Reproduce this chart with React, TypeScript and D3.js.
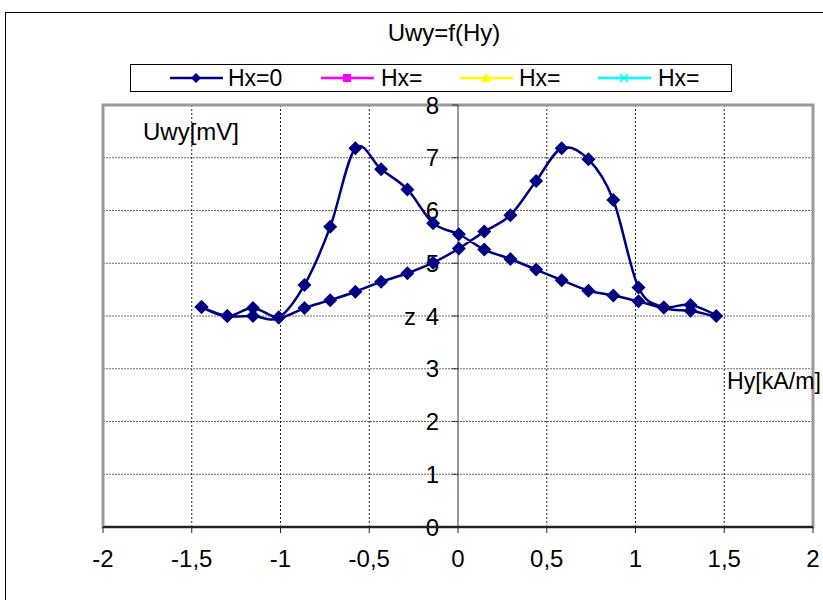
import React from "react";
import * as d3 from "d3";

// Hx=0 series, forward sweep (Hy from -1.45 to 1.45)
const hyUp = [-1.445, -1.3, -1.155, -1.01, -0.865, -0.72, -0.578, -0.433, -0.285, -0.14, 0.005, 0.148, 0.295, 0.44, 0.584, 0.735, 0.875, 1.017, 1.16, 1.31, 1.455];
const uUp = [4.17, 4.0, 4.0, 3.97, 4.59, 5.69, 7.18, 6.78, 6.4, 5.76, 5.55, 5.26, 5.08, 4.88, 4.68, 4.48, 4.39, 4.28, 4.16, 4.21, 4.0];
// Hx=0 series, return sweep (Hy from 1.31 back to -1.45)
const hyDown = [1.31, 1.16, 1.017, 0.875, 0.735, 0.584, 0.44, 0.295, 0.148, 0.005, -0.14, -0.285, -0.433, -0.578, -0.72, -0.865, -1.01, -1.155, -1.3, -1.445];
const uDown = [4.1, 4.16, 4.54, 6.2, 6.97, 7.18, 6.56, 5.91, 5.6, 5.28, 5.01, 4.81, 4.65, 4.46, 4.3, 4.15, 3.97, 4.15, 4.0, 4.17];

const xTicks = [-2, -1.5, -1, -0.5, 0, 0.5, 1, 1.5, 2];
const yTicks = [0, 1, 2, 3, 4, 5, 6, 7, 8];
const legendLabels = ["Hx=0", "Hx=", "Hx=", "Hx="];
const legendColors = ["#000080", "#FF00FF", "#FFFF00", "#00FFFF"];
const title = "Uwy=f(Hy)";

const FONT = "'Liberation Sans', Arial, sans-serif";

export default function App() {
  const W = 823, H = 600;
  const pl = 103, pr = 813, pt = 105, pb = 527;
  const x = d3.scaleLinear().domain([-2, 2]).range([pl, pr]);
  const y = d3.scaleLinear().domain([0, 8]).range([pb, pt]);
  const x0 = x(0);

  const pts: [number, number][] = [
    ...hyUp.map((h, i) => [h, uUp[i]] as [number, number]),
    ...hyDown.map((h, i) => [h, uDown[i]] as [number, number]),
  ];
  const line = d3
    .line<[number, number]>()
    .x((d) => x(d[0]))
    .y((d) => y(d[1]))
    .curve(d3.curveCardinal.tension(0));
  const diamond = (cx: number, cy: number, r: number) =>
    `M${cx},${cy - r}L${cx + r},${cy}L${cx},${cy + r}L${cx - r},${cy}Z`;

  const fmt = (v: number) => String(v).replace(".", ",");

  const legendItems = [
    { lx: 170, tx: 228 },
    { lx: 321, tx: 381 },
    { lx: 460, tx: 519 },
    { lx: 598, tx: 658 },
  ];
  const ly = 78;
  const FS = 24;

  return (
    <svg
      width={W}
      height={H}
      style={{ position: "absolute", left: 0, top: 0, background: "#fff" }}
      fontFamily={FONT}
    >
      <rect x={0} y={0} width={W} height={H} fill="#fff" />
      {/* chart area border */}
      <rect x={5.5} y={12.5} width={840} height={620} fill="none" stroke="#000" strokeWidth={1} />
      {/* title */}
      <text x={444} y={41} textAnchor="middle" fontSize={FS}>
        {title}
      </text>
      {/* legend */}
      <rect x={130.5} y={64.5} width={601} height={27} fill="#fff" stroke="#000" strokeWidth={1} />
      {legendItems.map((it, i) => {
        const c = legendColors[i];
        const mx = it.lx + 26;
        let marker = null;
        if (i === 0) marker = <path d={diamond(mx, ly, 5)} fill={c} />;
        if (i === 1) marker = <rect x={mx - 4} y={ly - 4} width={8} height={8} fill={c} />;
        if (i === 2) marker = <path d={`M${mx},${ly - 5}L${mx + 5},${ly + 4}L${mx - 5},${ly + 4}Z`} fill={c} />;
        if (i === 3)
          marker = (
            <path d={`M${mx - 4},${ly - 4}L${mx + 4},${ly + 4}M${mx - 4},${ly + 4}L${mx + 4},${ly - 4}`} stroke={c} strokeWidth={1.5} />
          );
        return (
          <g key={i}>
            <line x1={it.lx} x2={it.lx + 53} y1={ly} y2={ly} stroke={c} strokeWidth={2.5} />
            {marker}
            <text x={it.tx} y={86} fontSize={23}>
              {legendLabels[i]}
            </text>
          </g>
        );
      })}
      {/* plot area */}
      <rect x={pl} y={pt} width={pr - pl} height={pb - pt} fill="#fff" />
      {/* horizontal gridlines */}
      {yTicks
        .filter((v) => v > 0 && v < 8)
        .map((v) => (
          <line key={"h" + v} x1={pl} x2={pr} y1={y(v)} y2={y(v)} stroke="#666" strokeWidth={1} strokeDasharray="2,1" />
        ))}
      {/* vertical gridlines */}
      {xTicks
        .filter((v) => v !== 0 && v > -2 && v < 2)
        .map((v) => (
          <line key={"v" + v} x1={x(v)} x2={x(v)} y1={pt} y2={pb} stroke="#222" strokeWidth={1} strokeDasharray="2,2" />
        ))}
      {/* plot border */}
      <rect x={pl} y={pt} width={pr - pl} height={pb - pt} fill="none" stroke="#9a9a9a" strokeWidth={3} />
      {/* y axis at x=0 */}
      <line x1={x0} x2={x0} y1={pt} y2={pb} stroke="#333" strokeWidth={1} />
      {yTicks.map((v) => (
        <g key={"yt" + v}>
          <line x1={x0 - 6} x2={x0} y1={y(v)} y2={y(v)} stroke="#333" strokeWidth={1} />
          <text x={439} y={y(v) + 8.5} textAnchor="end" fontSize={FS}>
            {fmt(v)}
          </text>
        </g>
      ))}
      <text x={416} y={y(4) + 8.5} textAnchor="end" fontSize={FS}>
        z
      </text>
      {/* x axis */}
      <line x1={pl} x2={pr} y1={pb} y2={pb} stroke="#222" strokeWidth={2} />
      {xTicks.map((v) => (
        <g key={"xt" + v}>
          <line x1={x(v)} x2={x(v)} y1={pb} y2={pb + 6} stroke="#222" strokeWidth={1} />
          <text x={x(v)} y={567} textAnchor="middle" fontSize={FS}>
            {fmt(v)}
          </text>
        </g>
      ))}
      {/* axis titles */}
      <text x={143} y={140} fontSize={FS}>
        Uwy[mV]
      </text>
      <text x={727} y={389} fontSize={FS} textLength={94} lengthAdjust="spacingAndGlyphs">
        Hy[kA/m]
      </text>
      {/* series */}
      <path d={line(pts) || ""} fill="none" stroke="#000080" strokeWidth={2.5} />
      {pts.map((p, i) => (
        <path key={"m" + i} d={diamond(x(p[0]), y(p[1]), 7)} fill="#000080" />
      ))}
    </svg>
  );
}
